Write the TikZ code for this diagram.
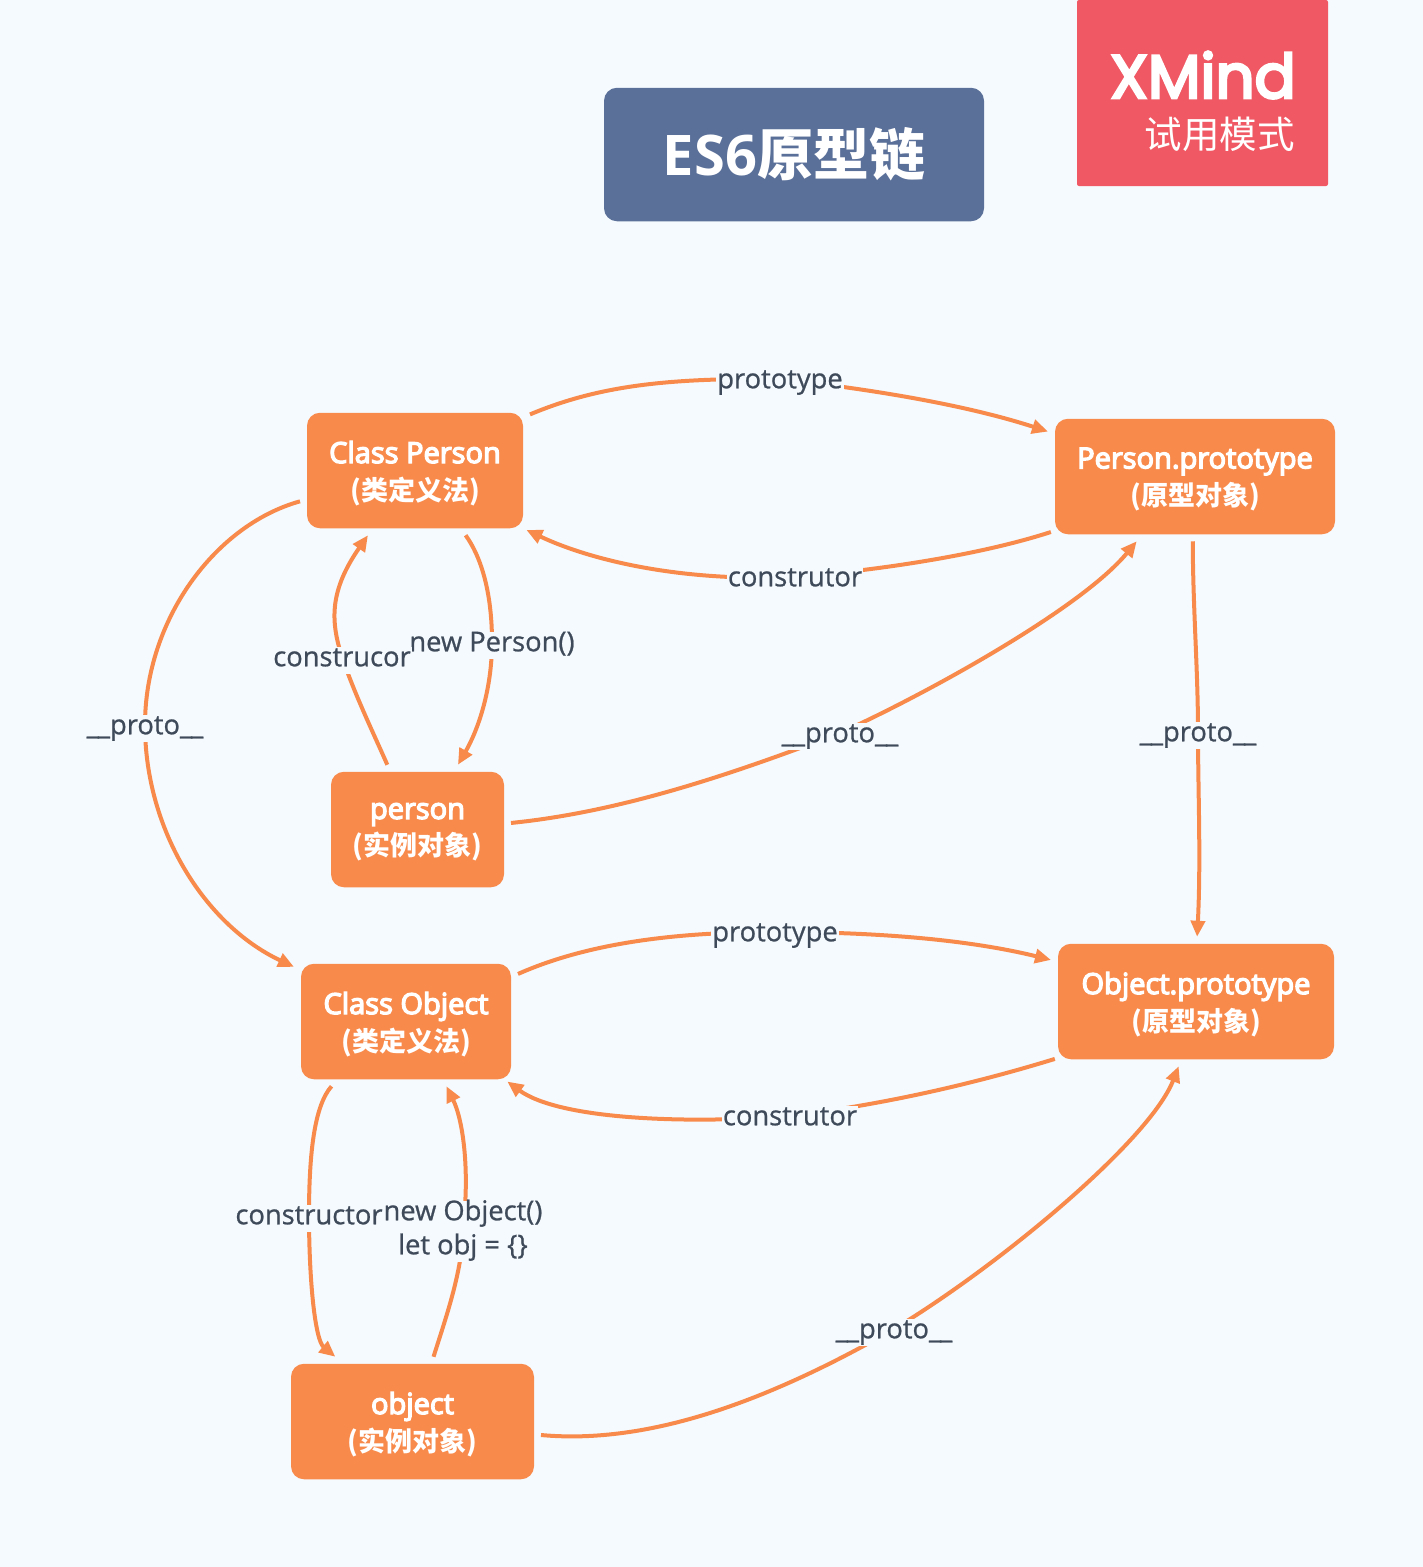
\documentclass[tikz,border=0pt]{standalone}
\usepackage{fontspec}
\usepackage{xcolor}
\setmainfont{Open Sans}
\newfontfamily\nodefont[FakeBold=4.5]{Open Sans}
\newfontfamily\labelfont[FakeBold=0.8]{Open Sans}
\newfontfamily\cjkfont{Noto Sans CJK SC}
\newfontfamily\logofont[FakeBold=4.5]{Poppins}
\usetikzlibrary{arrows.meta}
\definecolor{paper}{HTML}{F5FAFE}
\definecolor{boxorange}{HTML}{F88A4C}
\definecolor{titleblue}{HTML}{5A7099}
\definecolor{logored}{HTML}{F05964}
\definecolor{labelgray}{HTML}{3E4A59}
\newcommand{\cjkb}[1]{{\cjkfont\bfseries #1}}
\newcommand{\boxcjk}[1]{{\fontsize{27}{37}\selectfont\cjkfont\bfseries #1}}
\newcommand{\protolabel}{\_\kern-1.2pt\_proto\_\kern-1.2pt\_}

\begin{document}
\begin{tikzpicture}[
  x=1pt,y=-1pt,
  box/.style={fill=boxorange,rounded corners=13pt,align=center,text=white,
              minimum height=115.5pt,inner sep=0pt,outer sep=7pt,text depth=0pt,
              font=\fontsize{29}{37}\selectfont\nodefont},
  titlebox/.style={fill=titleblue,rounded corners=13pt,text=white,inner sep=0pt,
              minimum width=380pt,minimum height=133.5pt,
              font=\fontsize{56}{60}\selectfont\bfseries},
  logobox/.style={fill=logored,rounded corners=2pt,inner sep=0pt,
              minimum width=251pt,minimum height=186pt},
  arrow/.style={-{Triangle[length=16pt,width=14pt]},line width=4pt,draw=boxorange},
  linklabel/.style={fill=paper,text=labelgray,align=center,inner sep=1pt,yshift=-3.5pt,
              text height=18pt,text depth=6.5pt,
              font=\fontsize{27.3}{34}\selectfont\labelfont}
]
\useasboundingbox[fill=paper] (0,0) rectangle (1423,1567);

\node[logobox] (logo) at (1202.5,93) {};
\node[anchor=base east,text=white,inner sep=0pt,text depth=0pt,font=\fontsize{61}{61}\selectfont\logofont] (logoname) at (1296,98) {XMind};
\node[anchor=base east,text=white,inner sep=0pt,font=\fontsize{37.5}{38}\selectfont\cjkfont] (logotrial) at (1295,148) {试用模式};
\node[titlebox] (title) at (794,154.5) {ES6\cjkb{原型链}};

\node[box,minimum width=216pt] (classperson) at (415,470.5) {Class Person\\\boxcjk{(类定义法)}};
\node[box,minimum width=280pt] (personproto) at (1195,476.5) {Person.prototype\\\boxcjk{(原型对象)}};
\node[box,minimum width=173pt] (person) at (417.5,829.5) {person\\\boxcjk{(实例对象)}};
\node[box,minimum width=210pt] (classobject) at (406,1021.5) {Class Object\\\boxcjk{(类定义法)}};
\node[box,minimum width=276pt] (objectproto) at (1196,1001.5) {Object.prototype\\\boxcjk{(原型对象)}};
\node[box,minimum width=243pt] (object) at (412.5,1421.5) {object\\\boxcjk{(实例对象)}};

\draw[arrow] (classperson.26) .. controls (600,385) and (670,378) .. (780,379) node[linklabel] {prototype}
  .. controls (860,388) and (960,403) .. (personproto.163);
\draw[arrow,shorten <=-3pt,shorten >=-4pt] (personproto.201) .. controls (980,555) and (880,570) .. (795,577) node[linklabel] {construtor}
  .. controls (680,582) and (590,560) .. (classperson.332);
\draw[arrow] (classperson.195) .. controls (215,525) and (145,620) .. (145,725) node[linklabel] {\protolabel}
  .. controls (145,830) and (205,925) .. (classobject.154);
\draw[arrow] (classperson.308) .. controls (480,555) and (492,590) .. (492,642) node[linklabel] {new Person()}
  .. controls (492,690) and (478,730) .. (person.58);
\draw[arrow] (person.115) .. controls (372,730) and (355,695) .. (342,657) node[linklabel] {construcor}
  .. controls (330,620) and (330,590) .. (classperson.234);
\draw[arrow] (person.4) .. controls (620,812) and (730,775) .. (840,733) node[linklabel] {\protolabel}
  .. controls (920,697) and (1080,610) .. (personproto.228);
\draw[arrow] (personproto.268) .. controls (1193,610) and (1198,670) .. (1198,732) node[linklabel] {\protolabel}
  .. controls (1198,790) and (1201,860) .. (objectproto.89);
\draw[arrow] (classobject.23) .. controls (590,942) and (680,932) .. (775,932) node[linklabel] {prototype}
  .. controls (880,932) and (970,940) .. (objectproto.164);
\draw[arrow,shorten <=-4pt,shorten >=-8pt] (objectproto.202) .. controls (970,1085) and (880,1105) .. (790,1116) node[linklabel] {construtor}
  .. controls (690,1124) and (560,1120) .. (classobject.329);
\draw[arrow] (classobject.221) .. controls (315,1105) and (309,1150) .. (309,1215) node[linklabel] {constructor}
  .. controls (309,1280) and (315,1340) .. (object.140);
\draw[arrow] (object.72) .. controls (445,1320) and (463,1270) .. (463,1228) node[linklabel,text height=52pt] {new Object()\\let obj = \{\}}
  .. controls (470,1170) and (463,1120) .. (classobject.302);
\draw[arrow] (object.354) .. controls (650,1445) and (770,1400) .. (894,1329) node[linklabel] {\protolabel}
  .. controls (1000,1265) and (1150,1140) .. (objectproto.255);
\end{tikzpicture}
\end{document}
